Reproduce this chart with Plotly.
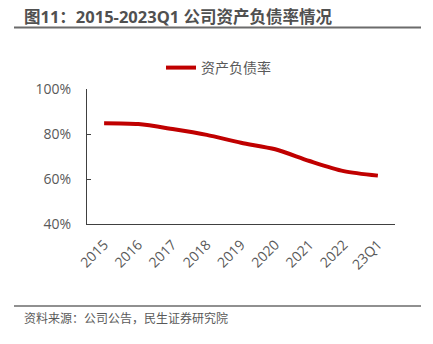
import plotly.graph_objects as go

years = ["2015", "2016", "2017", "2018", "2019", "2020", "2021", "2022", "23Q1"]
debt_ratio = [0.848, 0.844, 0.822, 0.796, 0.761, 0.732, 0.680, 0.635, 0.615]
series_name = "资产负债率"
y_ticks = [0.4, 0.6, 0.8, 1.0]
y_tick_labels = ["40%", "60%", "80%", "100%"]
title_text = "图11：2015-2023Q1 公司资产负债率情况"
source_text = "资料来源：公司公告，民生证券研究院"

W, H = 433, 344
L, R, T, B = 87, 395, 89, 224  # plot area in pixels


def px(x):
    return (x - L) / (R - L)


def py(y):
    return (B - y) / (B - T)


FONT = "Open Sans, Noto Sans CJK SC, sans-serif"
GREY = "#595959"

fig = go.Figure()
fig.add_trace(go.Scatter(
    x=years, y=debt_ratio, name=series_name, mode="lines",
    line=dict(color="#C00000", width=4, shape="spline", smoothing=0.8),
))

fig.update_layout(
    width=W, height=H,
    margin=dict(l=L, r=W - R, t=T, b=H - B, pad=0),
    paper_bgcolor="white", plot_bgcolor="white",
    font=dict(family=FONT, size=14, color=GREY),
    showlegend=True,
    legend=dict(orientation="h", x=px(161), xanchor="left", y=py(68), yanchor="middle",
                font=dict(size=14, color=GREY), bgcolor="rgba(0,0,0,0)",
                borderwidth=0, itemclick=False),
    xaxis=dict(type="category", range=[-0.5, len(years) - 0.5], showline=True,
               linecolor="#404040", linewidth=1, ticks="", showgrid=False,
               tickangle=-45, tickfont=dict(size=14, color=GREY), zeroline=False,
               ticklabelstandoff=6),
    yaxis=dict(range=[0.4, 1.0], tickvals=y_ticks, ticktext=y_tick_labels,
               showline=True, linecolor="#404040", linewidth=1, ticks="inside",
               ticklen=4, tickcolor="#404040", showgrid=False, zeroline=False,
               tickfont=dict(size=14, color=GREY), ticklabelstandoff=12),
    shapes=[
        dict(type="line", xref="paper", yref="paper", x0=px(14), x1=px(421),
             y0=py(27.5), y1=py(27.5), line=dict(color="#6b6b6b", width=2)),
        dict(type="line", xref="paper", yref="paper", x0=px(14), x1=px(421),
             y0=py(306), y1=py(306), line=dict(color="#6b6b6b", width=1.5)),
    ],
    annotations=[
        dict(text="<b>" + title_text + "</b>", xref="paper", yref="paper",
             x=px(22), y=py(17), xanchor="left", yanchor="middle", showarrow=False,
             font=dict(size=16.5, color="#505050", family=FONT)),
        dict(text=source_text, xref="paper", yref="paper",
             x=px(22), y=py(318), xanchor="left", yanchor="middle", showarrow=False,
             font=dict(size=12, color=GREY, family=FONT)),
    ],
)

fig.write_html("out.html")
